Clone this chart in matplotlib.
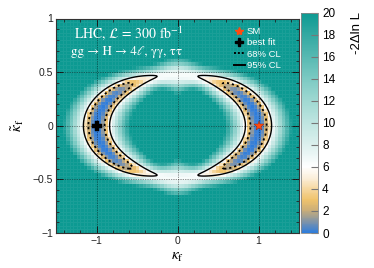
import numpy as np
import matplotlib
matplotlib.use("Agg")
import matplotlib.pyplot as plt
from matplotlib.colors import LinearSegmentedColormap
from matplotlib.ticker import MultipleLocator
from matplotlib.lines import Line2D

# ---- data ----
x_range = [-1.5, 1.5]
y_range = [-1.0, 1.0]
n_bins_x, n_bins_y = 70, 60
ring_kt_at_zero = 0.477        # ring crosses kf=0 at this kt
ring_kf_at_zero = 1.0          # ring crosses kt=0 at this kf
radial_sigma_center = 0.066    # ring width at the best fit
radial_sigma_drop = 0.014      # narrowing towards the crescent tips
radial_sigma_top = 0.030       # widening of the white band at kf=0
halo_slope = 0.75              # slower rise outside the 95% contour
along_max = 6.4                # -2dlnL plateau along the ring
along_angle = 63.9             # deg
along_power = 6.1
best_fit = (-1.0, 0.0)
sm_point = (1.0, 0.0)
cl_levels = [2.30, 5.99]
z_max = 20

cbar_values = [0, 1, 2, 3, 4, 5, 6, 7, 8, 10, 12, 14, 16, 18, 20]
cbar_colors = ["#2f7ddb", "#7f93a8", "#c9ad78", "#f0c36c", "#f6d8a0", "#fbefdc",
               "#ffffff", "#edf7f6", "#dcf0ee", "#bfe5e1", "#9fd8d2", "#7ccac3",
               "#57b9b2", "#33a9a2", "#0c9a92"]


def surface(xv, yv):
    a = (ring_kf_at_zero / ring_kt_at_zero) ** 2
    XX, YY = np.meshgrid(xv, yv)
    u = np.sqrt(XX ** 2 + a * YY ** 2) / ring_kf_at_zero
    th = np.arctan2(np.sqrt(a) * np.abs(YY), np.abs(XX))
    thd = np.degrees(th)
    sig = (radial_sigma_center - radial_sigma_drop * np.sin(th) ** 2
           + radial_sigma_top * np.exp(-((thd - 90) / 10) ** 2))
    r = np.abs(u - 1) / sig
    r0 = np.sqrt(cl_levels[1])
    radial = np.where(r < r0, r ** 2, r0 ** 2 + 2 * r0 * halo_slope * (r - r0))
    along = along_max * (1 - np.exp(-(thd / along_angle) ** along_power))
    return radial + along


xe = np.linspace(x_range[0], x_range[1], n_bins_x + 1)
ye = np.linspace(y_range[0], y_range[1], n_bins_y + 1)
Z = np.clip(surface(0.5 * (xe[1:] + xe[:-1]), 0.5 * (ye[1:] + ye[:-1])), 0, z_max)
xf = np.linspace(x_range[0], x_range[1], 601)
yf = np.linspace(y_range[0], y_range[1], 401)
ZF = surface(xf, yf)

cmap = LinearSegmentedColormap.from_list(
    "lh", [(v / z_max, c) for v, c in zip(cbar_values, cbar_colors)])

plt.rcParams["mathtext.fontset"] = "stix"
plt.rcParams["font.family"] = ["Liberation Sans", "DejaVu Sans"]
fig = plt.figure(figsize=(3.74, 2.68), dpi=100)
ax = fig.add_axes([56 / 374, 1 - 233 / 268, (299 - 56) / 374, (233 - 18.5) / 268])
cax = fig.add_axes([301 / 374, 1 - 233 / 268, (318 - 301) / 374, (233 - 12.7) / 268])

mesh = ax.pcolormesh(xe, ye, Z, cmap=cmap, vmin=0, vmax=z_max,
                     edgecolors=(1, 1, 1, 0.06), linewidth=0.4, rasterized=True)
ax.contour(xf, yf, ZF, levels=[cl_levels[0]], colors="black",
           linestyles=[(0, (1.2, 1.6))], linewidths=1.3)
ax.contour(xf, yf, ZF, levels=[cl_levels[1]], colors="black",
           linestyles="solid", linewidths=1.0)

for v in [-1, 0, 1]:
    ax.axvline(v, color="black", lw=0.5, ls=(0, (1, 1.5)), alpha=0.8)
for v in [-0.5, 0, 0.5]:
    ax.axhline(v, color="black", lw=0.5, ls=(0, (1, 1.5)), alpha=0.8)

ax.plot(*best_fit, marker="P", color="black", ms=7, mew=0.3, zorder=5)
ax.plot(*sm_point, marker="*", color="#ff4a10", ms=7, mec="#a02000", mew=0.3, zorder=5)

ax.set_xlim(*x_range)
ax.set_ylim(*y_range)
ax.xaxis.set_minor_locator(MultipleLocator(0.2))
ax.yaxis.set_minor_locator(MultipleLocator(0.1))
ax.tick_params(which="both", direction="in", top=True, right=True,
               labelsize=7.5, colors="#222222", pad=2)
ax.tick_params(which="major", length=5, width=0.7)
ax.tick_params(which="minor", length=2.5, width=0.6)
ax.set_xticks([-1, 0, 1])
ax.set_xticklabels(["\u22121", "0", "1"])
ax.set_yticks([-1, -0.5, 0, 0.5, 1])
ax.set_yticklabels(["\u22121", "\u22120.5", "0", "0.5", "1"])
for s in ax.spines.values():
    s.set_linewidth(0.8)
    s.set_color("#333333")

ax.set_xlabel(r"$\kappa_{\rm f}$", fontsize=11, labelpad=3)
ax.set_ylabel(r"$\tilde{\kappa}_{\rm f}$", fontsize=11, labelpad=5)

ax.text(-1.283, 0.817, r"LHC, $\mathcal{L}$ = 300 fb$^{-1}$", color="white",
        fontsize=10, family=["STIXGeneral", "Liberation Serif"], va="baseline")
ax.text(-1.31, 0.66, "gg \u2192 H \u2192 4\u2113, \u03b3\u03b3, \u03c4\u03c4",
        color="white", fontsize=9.4, family=["STIXGeneral", "Liberation Serif"],
        va="baseline")

handles = [
    Line2D([], [], ls="none", marker="*", color="#ff4a10", ms=6),
    Line2D([], [], ls="none", marker="P", color="black", ms=6),
    Line2D([], [], ls=(0, (1, 1)), color="black", lw=1.4),
    Line2D([], [], ls="-", color="black", lw=1.4),
]
leg = ax.legend(handles, ["SM", "best fit", "68% CL", "95% CL"], loc="upper left",
                bbox_to_anchor=(0.715, 0.978), frameon=False,
                handlelength=1.2, handletextpad=0.2, labelspacing=0.25,
                borderaxespad=0, prop={"family": "Liberation Sans", "size": 6.8})
for t in leg.get_texts():
    t.set_color("white")

cb = fig.colorbar(mesh, cax=cax)
cb.set_ticks(np.arange(0, 21, 2))
cax.tick_params(direction="in", length=5, width=0.8, colors="#777777",
                labelsize=8.5, labelcolor="black", pad=3)
cb.outline.set_edgecolor("#888888")
cb.outline.set_linewidth(0.6)
fig.text(357 / 374, 1 - 12 / 268, "-2\u0394ln L", rotation=90, ha="center", va="top",
         fontsize=9.5, family="Liberation Sans")

fig.savefig("out.png", dpi=100)
